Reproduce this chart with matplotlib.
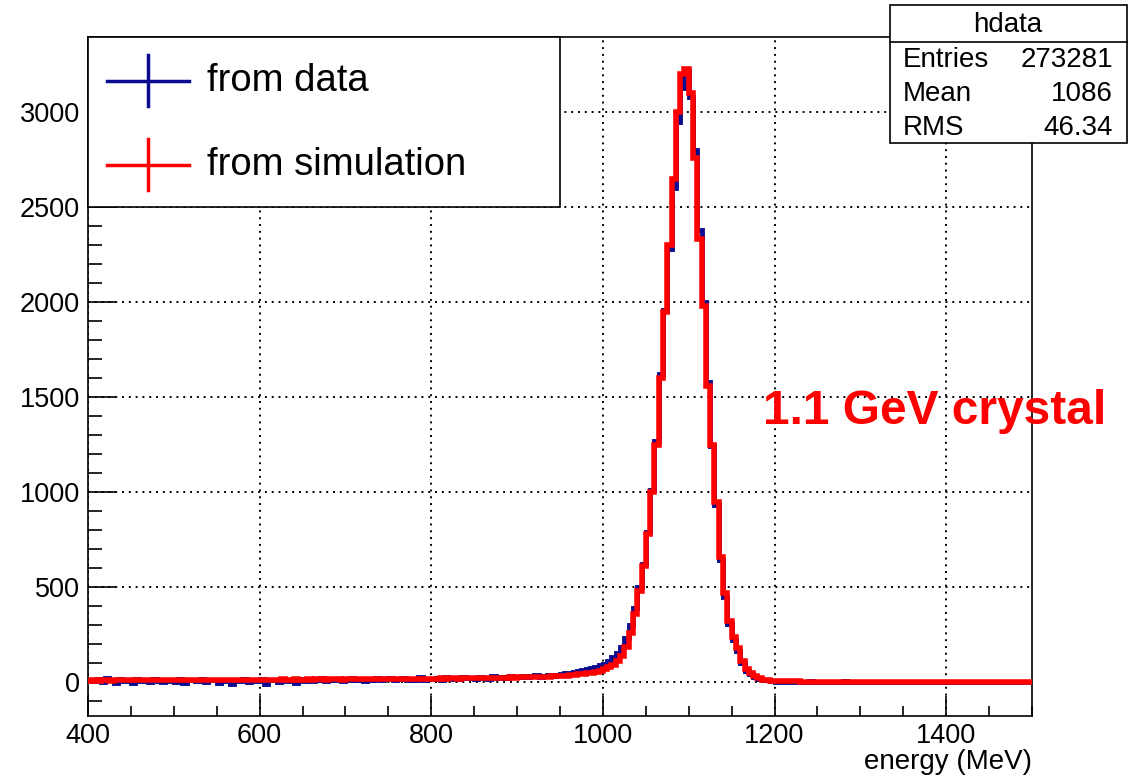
import matplotlib
matplotlib.use("Agg")
import matplotlib.pyplot as plt
from matplotlib.patches import Rectangle
from matplotlib.lines import Line2D
import numpy as np

plt.rcParams['font.family'] = ['Liberation Sans', 'DejaVu Sans']

# 5 MeV bins from 400 to 1500
bin_edges = np.arange(400, 1505, 5)

# "from data" histogram (counts per bin)
data_counts = [
    12, 4, 18, 2, 22, 10, -4, 15, 6, 9,
    -6, 14, 3, 11, -2, 16, 5, 0, 13, 7,
    2, 15, -3, 9, 12, 4, 17, 1, 8, 11,
    -5, 13, 6, -10, 10, 3, 14, -2, 8, 5,
    15, -8, 9, 12, 2, 18, 6, 10, -3, 14,
    7, 16, 3, 11, 19, 5, 13, 8, 17, 4,
    12, 20, 9, 15, 6, 18, 11, 22, 8, 14,
    19, 10, 16, 21, 8, 17, 13, 24, 11, 18,
    15, 22, 12, 25, 17, 20, 14, 26, 19, 23,
    18, 27, 21, 16, 29, 22, 25, 19, 30, 24,
    27, 33, 25, 30, 36, 28, 34, 38, 31, 37,
    40, 45, 48, 55, 58, 62, 70, 74, 80, 88,
    95, 110, 130, 155, 185, 230, 300, 390, 500, 620,
    790, 1010, 1270, 1620, 1960, 2280, 2600, 2950, 3130, 3215,
    3080, 2800, 2380, 2000, 1580, 1240, 930, 640, 450, 305,
    220, 165, 100, 60, 40, 27, 18, 12, 8, 5,
    2, 3, 1, 0, 2, 1, 0, 2, 3, 0,
    1, 0, 2, 1, 0, 1, 3, 0, 1, 2,
    0, 1, 0, 2, 1, 0, 1, 0, 2, 1,
    0, 1, 0, 1, 2, 0, 1, 0, 1, 0,
    2, 0, 1, 0, 1, 0, 0, 1, 0, 1,
    0, 0, 1, 0, 0, 1, 0, 0, 1, 0,
]

# "from simulation" histogram
sim_counts = [
    6, 8, 7, 9, 8, 7, 9, 10, 8, 9,
    8, 10, 9, 8, 10, 9, 11, 10, 9, 10,
    11, 10, 9, 11, 12, 10, 11, 12, 11, 10,
    11, 12, 10, 12, 11, 13, 12, 11, 12, 13,
    12, 13, 11, 12, 13, 14, 12, 13, 14, 13,
    13, 14, 12, 14, 15, 13, 14, 15, 14, 13,
    14, 15, 14, 16, 15, 14, 16, 15, 17, 16,
    15, 16, 17, 16, 15, 17, 16, 18, 17, 16,
    18, 17, 19, 18, 20, 19, 18, 20, 21, 19,
    20, 21, 22, 20, 23, 22, 21, 23, 24, 23,
    24, 25, 24, 26, 27, 26, 28, 27, 29, 30,
    31, 33, 35, 38, 40, 43, 46, 50, 55, 60,
    68, 78, 92, 110, 135, 185, 260, 360, 480, 610,
    780, 1000, 1250, 1600, 1950, 2300, 2650, 3000, 3200, 3230,
    3100, 2760, 2330, 1980, 1560, 1250, 950, 660, 470, 320,
    235, 180, 110, 68, 45, 30, 20, 13, 9, 6,
    5, 4, 4, 3, 3, 3, 2, 2, 2, 2,
    2, 2, 2, 2, 2, 2, 2, 2, 2, 2,
    2, 2, 2, 2, 2, 2, 2, 2, 2, 2,
    2, 2, 2, 2, 2, 2, 2, 2, 2, 2,
    2, 2, 2, 2, 2, 2, 2, 2, 2, 2,
    2, 2, 2, 2, 2, 2, 2, 2, 2, 2,
]

stats_labels = ["Entries", "Mean", "RMS"]
stats_values = ["273281", "1086", "46.34"]
legend_labels = ["from data", "from simulation"]

W, H = 1135, 778
def fx(px):
    return px / W
def fy(py):
    return 1 - py / H

blue = '#0b0b8f'
red = '#ff0000'

fig = plt.figure(figsize=(11.35, 7.78), dpi=100)
ax = fig.add_axes([fx(88), fy(716), fx(1032) - fx(88), fy(37) - fy(716)])

ax.stairs(data_counts, bin_edges, color=blue, lw=3.5, baseline=None, zorder=3)
ax.stairs(sim_counts, bin_edges, color=red, lw=4, baseline=None, zorder=4)

ax.set_xlim(400, 1500)
ax.set_ylim(-179, 3396)
ax.set_xticks(np.arange(400, 1501, 200))
ax.set_xticks(np.arange(400, 1501, 50), minor=True)
ax.set_yticks(np.arange(0, 3001, 500))
ax.set_yticks(np.arange(-100, 3400, 100), minor=True)
ax.grid(True, which='major', color='black', linestyle=(0, (1, 2.5)), lw=1.4)

ax.tick_params(axis='x', which='major', direction='in', length=14.5, width=1.2,
               labelsize=19.5, pad=5, top=False)
ax.tick_params(axis='x', which='minor', direction='in', length=7, width=1.2, top=False)
ax.tick_params(axis='y', which='major', direction='in', length=20, width=1.2,
               labelsize=19.5, pad=6, right=False)
ax.tick_params(axis='y', which='minor', direction='in', length=10, width=1.2, right=False)
for s in ax.spines.values():
    s.set_linewidth(1.2)

fig.text(fx(1032), fy(762), "energy (MeV)", ha='right', va='center', fontsize=20)

ax.text(fx(763), fy(412), "1.1 GeV crystal", transform=fig.transFigure,
        color=red, fontsize=34.5, fontweight='bold', ha='left', va='center', zorder=6)

# legend box (ROOT TLegend style)
fig.add_artist(Rectangle((fx(88), fy(207)), fx(560) - fx(88), fy(37) - fy(207),
                         transform=fig.transFigure, facecolor='white',
                         edgecolor='black', lw=1.2, zorder=5))
for i, (lab, col) in enumerate(zip(legend_labels, [blue, red])):
    yc = 81 + i * 84
    fig.add_artist(Line2D([fx(107), fx(189)], [fy(yc), fy(yc)], color=col, lw=2.5,
                          transform=fig.transFigure, zorder=6))
    fig.add_artist(Line2D([fx(148), fx(148)], [fy(yc - 26), fy(yc + 25)], color=col, lw=2.5,
                          transform=fig.transFigure, zorder=6))
    fig.text(fx(207), fy(yc), lab, ha='left', va='center', fontsize=27.5, zorder=6)

# stats box
fig.add_artist(Rectangle((fx(890), fy(143)), fx(1127) - fx(890), fy(5) - fy(143),
                         transform=fig.transFigure, facecolor='white',
                         edgecolor='black', lw=1.2, zorder=5))
fig.add_artist(Line2D([fx(890), fx(1127)], [fy(42), fy(42)], color='black', lw=1.2,
                      transform=fig.transFigure, zorder=6))
fig.text(fx(1008), fy(25), "hdata", ha='center', va='center', fontsize=20, zorder=6)
for i, (lab, val) in enumerate(zip(stats_labels, stats_values)):
    yc = 60 + i * 34
    fig.text(fx(903), fy(yc), lab, ha='left', va='center', fontsize=20, zorder=6)
    fig.text(fx(1113), fy(yc), val, ha='right', va='center', fontsize=20, zorder=6)

fig.savefig("out.png", dpi=100, facecolor='white')
